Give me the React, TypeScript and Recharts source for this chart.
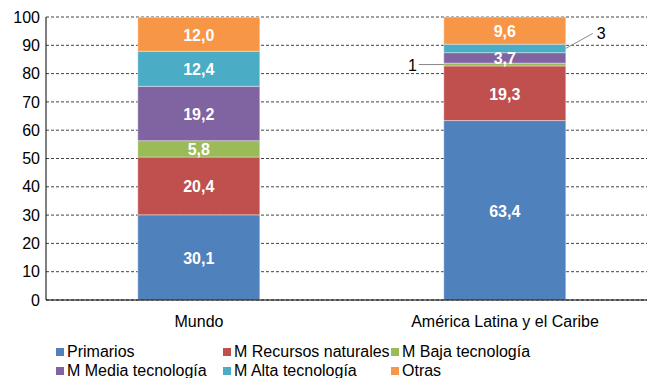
import { BarChart, Bar, XAxis, YAxis, CartesianGrid, LabelList } from 'recharts'

const categories = ['Mundo', 'América Latina y el Caribe']
const primarios = [30.1, 63.4]
const recursos = [20.4, 19.3]
const baja = [5.8, 1]
const media = [19.2, 3.7]
const alta = [12.4, 3]
const otras = [12.0, 9.6]
const yTicks = [0, 10, 20, 30, 40, 50, 60, 70, 80, 90, 100]

const series = [
  { key: 'primarios', name: 'Primarios', color: '#4F81BD', values: primarios },
  { key: 'recursos', name: 'M Recursos naturales', color: '#C0504D', values: recursos },
  { key: 'baja', name: 'M Baja tecnología', color: '#9BBB59', values: baja },
  { key: 'media', name: 'M Media tecnología', color: '#8064A2', values: media },
  { key: 'alta', name: 'M Alta tecnología', color: '#4BACC6', values: alta },
  { key: 'otras', name: 'Otras', color: '#F79646', values: otras },
]

const data = categories.map((c, i) => {
  const row: Record<string, string | number> = { category: c }
  series.forEach((s) => (row[s.key] = s.values[i]))
  return row
})

const FONT = '"Liberation Sans", Arial, sans-serif'
const fmt = (v: number) => v.toFixed(1).replace('.', ',')

// in-bar label, with leader-line callouts for the thin ALC segments
const makeLabel = (seriesKey: string) => (props: any) => {
  const { x, y, width, height, value, index } = props
  const cx = x + width / 2
  const cy = y + height / 2
  if (seriesKey === 'baja' && index === 1) {
    return (
      <g>
        <line x1={x - 25} y1={cy} x2={x} y2={cy} stroke="#888" strokeWidth={1} />
        <text x={x - 27} y={cy + 1} textAnchor="end" dominantBaseline="central" fontSize={16} fill="#000" fontFamily={FONT}>
          {String(value)}
        </text>
      </g>
    )
  }
  if (seriesKey === 'alta' && index === 1) {
    const ex = x + width
    return (
      <g>
        <line x1={ex} y1={cy} x2={ex + 27} y2={cy - 15} stroke="#888" strokeWidth={1} />
        <text x={ex + 31} y={cy - 15} textAnchor="start" dominantBaseline="central" fontSize={16} fill="#000" fontFamily={FONT}>
          {String(value)}
        </text>
      </g>
    )
  }
  return (
    <text x={cx} y={cy + 1} textAnchor="middle" dominantBaseline="central" fontSize={16} fontWeight="bold" fill="#fff" fontFamily={FONT}>
      {fmt(value)}
    </text>
  )
}

const legendCols = [56, 223, 391]
const legendRows = [352, 371]

export default function App() {
  return (
    <div style={{ position: 'absolute', left: 0, top: 0, width: 647, height: 378, overflow: 'hidden', background: '#fff', fontFamily: FONT }}>
      <BarChart
        width={700}
        height={378}
        data={data}
        margin={{ top: 17, right: 42, bottom: 48, left: 0 }}
        barCategoryGap="30%"
      >
        <CartesianGrid vertical={false} stroke="#444" strokeDasharray="3 2" />
        <XAxis
          dataKey="category"
          height={30}
          tickLine={false}
          tickSize={0}
          tickMargin={16}
          axisLine={{ stroke: '#000' }}
          tick={{ fill: '#000', fontSize: 16, fontFamily: FONT }}
        />
        <YAxis
          width={46}
          domain={[0, 100]}
          ticks={yTicks}
          tickLine={false}
          tickSize={0}
          tickMargin={6}
          axisLine={{ stroke: '#000' }}
          tick={{ fill: '#000', fontSize: 16, fontFamily: FONT }}
        />
        {series.map((s) => (
          <Bar
            key={s.key}
            dataKey={s.key}
            name={s.name}
            stackId="a"
            fill={s.color}
            stroke="#ffffff"
            strokeOpacity={0.5}
            strokeWidth={0.75}
            isAnimationActive={false}
          >
            <LabelList dataKey={s.key} content={makeLabel(s.key)} />
          </Bar>
        ))}
      </BarChart>
      {series.map((s, i) => {
        const left = legendCols[i % 3]
        const top = legendRows[Math.floor(i / 3)]
        return (
          <div key={s.key} style={{ position: 'absolute', left, top: top - 10, height: 20, display: 'flex', alignItems: 'center', whiteSpace: 'nowrap' }}>
            <span style={{ width: 8, height: 8, background: s.color, display: 'inline-block', marginRight: 3 }} />
            <span style={{ fontSize: 16, color: '#000' }}>{s.name}</span>
          </div>
        )
      })}
    </div>
  )
}
